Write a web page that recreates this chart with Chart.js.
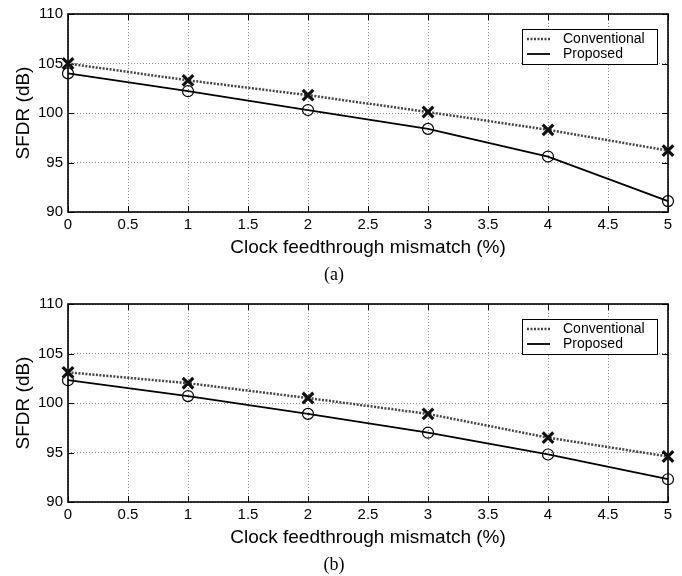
<!DOCTYPE html>
<html><head><meta charset="utf-8">
<script src="https://cdn.jsdelivr.net/npm/chart.js@4"></script>
<style>
html,body{margin:0;padding:0;background:#fff;}
#wrap{position:relative;width:682px;height:576px;overflow:hidden;}
canvas{position:absolute;left:0;}
</style></head><body>
<div id="wrap">
<canvas id="ca" width="682" height="290" style="top:0"></canvas>
<canvas id="cb" width="682" height="290" style="top:290px"></canvas>
</div>
<script>
// ---- data ----
const mismatch = [0, 1, 2, 3, 4, 5];
const convA = [105.0, 103.3, 101.8, 100.1, 98.3, 96.2];
const propA = [104.0, 102.2, 100.3, 98.4, 95.6, 91.1];
const convB = [103.1, 102.0, 100.5, 98.9, 96.5, 94.6];
const propB = [102.3, 100.7, 98.9, 97.0, 94.8, 92.3];
const seriesNames = ['Conventional', 'Proposed'];
const xTitle = 'Clock feedthrough mismatch (%)';
const yTitle = 'SFDR (dB)';
const panelLabels = ['(a)', '(b)'];
const xMin = 0, xMax = 5, xStep = 0.5;
const yMin = 90, yMax = 110, yStep = 5;

const SANS = "'Liberation Sans', Arial, sans-serif";
const SERIF = "'Liberation Serif', 'Times New Roman', serif";

const framePlugin = {
  id: 'frame',
  beforeDatasetsDraw(chart) {
    const {ctx, chartArea: a, scales: {x, y}} = chart;
    const L = 6;
    ctx.save();
    ctx.strokeStyle = '#000';
    ctx.lineWidth = 1;
    ctx.beginPath();
    x.ticks.forEach(t => {
      const px = Math.round(x.getPixelForValue(t.value)) + 0.5;
      ctx.moveTo(px, a.bottom); ctx.lineTo(px, a.bottom - L);
      ctx.moveTo(px, a.top); ctx.lineTo(px, a.top + L);
    });
    y.ticks.forEach(t => {
      const py = Math.round(y.getPixelForValue(t.value)) + 0.5;
      ctx.moveTo(a.left, py); ctx.lineTo(a.left + L, py);
      ctx.moveTo(a.right, py); ctx.lineTo(a.right - L, py);
    });
    ctx.stroke();
    ctx.lineWidth = 1.6;
    ctx.strokeRect(a.left, a.top, a.right - a.left, a.bottom - a.top);
    ctx.restore();
  }
};

const boxLegendPlugin = {
  id: 'boxLegend',
  afterDraw(chart) {
    const {ctx, chartArea: a} = chart;
    const left = a.right - 146, top = a.top + 15, w = 135, h = 35;
    ctx.save();
    ctx.fillStyle = '#fff';
    ctx.fillRect(left, top, w, h);
    ctx.strokeStyle = '#000';
    ctx.lineWidth = 1;
    ctx.strokeRect(left + 0.5, top + 0.5, w, h);
    ctx.font = '14px ' + SANS;
    ctx.textBaseline = 'middle';
    chart.data.datasets.forEach((ds, i) => {
      const yy = top + 10 + i * 15;
      ctx.save();
      ctx.strokeStyle = ds.borderColor;
      ctx.lineWidth = ds.borderWidth;
      ctx.setLineDash(ds.borderDash || []);
      ctx.beginPath();
      ctx.moveTo(left + 5, yy); ctx.lineTo(left + 28, yy);
      ctx.stroke();
      ctx.restore();
      ctx.fillStyle = '#000';
      ctx.fillText(ds.label, left + 41, yy);
    });
    ctx.restore();
  }
};

function makeChart(id, conv, prop, panel) {
  const toPts = arr => mismatch.map((m, i) => ({x: m, y: arr[i]}));
  return new Chart(document.getElementById(id), {
    type: 'line',
    data: {
      datasets: [
        {
          label: seriesNames[0], data: toPts(conv),
          borderColor: '#444', borderWidth: 2.5, borderDash: [2, 1.5],
          pointStyle: 'crossRot', pointRadius: 7.5, pointBorderWidth: 3.2,
          pointBorderColor: '#111', pointBackgroundColor: '#111',
          fill: false, tension: 0, clip: false
        },
        {
          label: seriesNames[1], data: toPts(prop),
          borderColor: '#000', borderWidth: 1.8,
          pointStyle: 'circle', pointRadius: 5.5, pointBorderWidth: 1.2,
          pointBorderColor: '#000', pointBackgroundColor: 'rgba(0,0,0,0)',
          fill: false, tension: 0, clip: false
        }
      ]
    },
    options: {
      responsive: false, animation: false, devicePixelRatio: 1,
      layout: {padding: {left: 0, right: 14, top: 13, bottom: 0}},
      plugins: {
        legend: {display: false},
        tooltip: {enabled: false},
        title: {
          display: true, text: panel, position: 'bottom',
          color: '#000', font: {family: SERIF, size: 18, weight: 'normal', lineHeight: '20px'},
          padding: {top: 4, bottom: 5}
        }
      },
      scales: {
        x: {
          type: 'linear', min: xMin, max: xMax,
          ticks: {stepSize: xStep, color: '#000', font: {family: SANS, size: 15}, padding: 4,
                  maxRotation: 0, autoSkip: false, callback: v => String(+Number(v).toFixed(1))},
          grid: {color: '#8a8a8a', lineWidth: 1, drawTicks: false},
          border: {display: false, dash: [1, 2]},
          title: {display: true, text: xTitle, color: '#000', font: {family: SANS, size: 19}, padding: {top: 0, bottom: 2}},
          afterFit: s => { s.height = 49; }
        },
        y: {
          type: 'linear', min: yMin, max: yMax,
          ticks: {stepSize: yStep, color: '#000', font: {family: SANS, size: 15}, padding: 5},
          grid: {color: '#8a8a8a', lineWidth: 1, drawTicks: false},
          border: {display: false, dash: [1, 2]},
          title: {display: true, text: yTitle, color: '#000', font: {family: SANS, size: 19}, padding: {top: 12, bottom: 0}},
          afterFit: s => { s.width = 68; }
        }
      }
    },
    plugins: [framePlugin, boxLegendPlugin]
  });
}

makeChart('ca', convA, propA, panelLabels[0]);
makeChart('cb', convB, propB, panelLabels[1]);
</script>
</body></html>
